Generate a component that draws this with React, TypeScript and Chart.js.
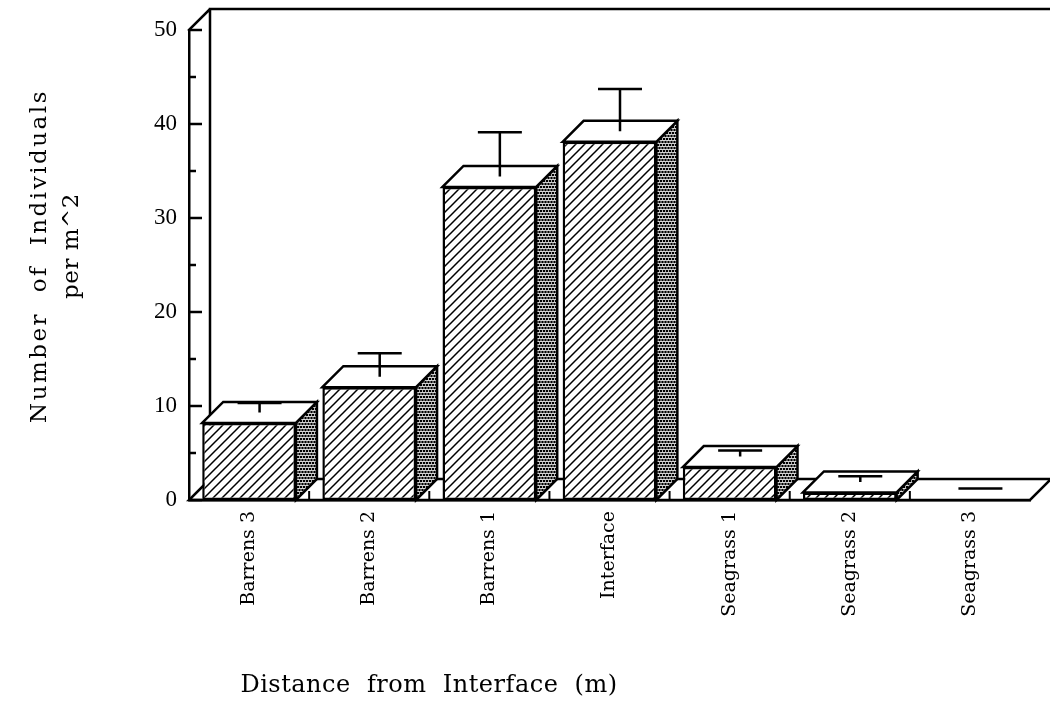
import React, { useEffect, useRef } from 'react';
import { Chart, registerables } from 'chart.js';

Chart.register(...registerables);

// Mean density and standard error at each station along the transect
const categories = ['Barrens 3', 'Barrens 2', 'Barrens 1', 'Interface', 'Seagrass 1', 'Seagrass 2', 'Seagrass 3'];
const meanDensity = [8.2, 12.0, 33.3, 38.1, 3.5, 0.8, 0];
const standardError = [1.0, 2.5, 4.7, 4.5, 0.65, 0.6, 0.1];

const yMin = 0;
const yMax = 50;
const yStep = 5;
const yLabelStep = 10;

const xAxisTitle = 'Distance  from  Interface  (m)';
const yAxisTitle = ['Number  of  Individuals', 'per m^2'];

const DEPTH = 21; // 3D extrusion offset in px
const LINE = 2.5;
const CAP_HALF = 22;

function makeHatch(ctx: CanvasRenderingContext2D): CanvasPattern | string {
  const c = document.createElement('canvas');
  c.width = 9;
  c.height = 9;
  const g = c.getContext('2d')!;
  g.fillStyle = '#fff';
  g.fillRect(0, 0, 9, 9);
  g.strokeStyle = '#000';
  g.lineWidth = 1.5;
  g.beginPath();
  g.moveTo(-1, 10);
  g.lineTo(10, -1);
  g.moveTo(-1, 1);
  g.lineTo(1, -1);
  g.moveTo(8, 10);
  g.lineTo(10, 8);
  g.stroke();
  return ctx.createPattern(c, 'repeat') || '#fff';
}

function makeDots(ctx: CanvasRenderingContext2D): CanvasPattern | string {
  const c = document.createElement('canvas');
  c.width = 6;
  c.height = 6;
  const g = c.getContext('2d')!;
  g.fillStyle = '#fff';
  g.fillRect(0, 0, 6, 6);
  g.fillStyle = '#000';
  const pts = [
    [1, 1],
    [4, 1],
    [7, 1],
    [2.5, 4],
    [5.5, 4],
    [-0.5, 4],
    [1, 7],
    [4, 7],
  ];
  g.beginPath();
  pts.forEach(([px, py]) => {
    g.moveTo(px + 1.3, py);
    g.arc(px, py, 1.3, 0, Math.PI * 2);
  });
  g.fill();
  return ctx.createPattern(c, 'repeat') || '#888';
}

const box3d = {
  id: 'box3d',
  beforeDatasetsDraw(chart: any) {
    const { ctx, chartArea } = chart;
    const { left, right, top, bottom } = chartArea;
    const xs = chart.scales.x;
    const ys = chart.scales.y;
    ctx.save();
    ctx.strokeStyle = '#000';
    ctx.lineWidth = LINE;
    ctx.lineCap = 'square';
    // back wall
    ctx.beginPath();
    ctx.moveTo(left, top);
    ctx.lineTo(left + DEPTH, top - DEPTH);
    ctx.lineTo(chart.width, top - DEPTH);
    ctx.moveTo(left + DEPTH, top - DEPTH);
    ctx.lineTo(left + DEPTH, bottom - DEPTH);
    ctx.stroke();
    // floor
    ctx.beginPath();
    ctx.moveTo(left, bottom);
    ctx.lineTo(right, bottom);
    ctx.lineTo(right + DEPTH, bottom - DEPTH);
    ctx.lineTo(left + DEPTH, bottom - DEPTH);
    ctx.closePath();
    ctx.stroke();
    // category separators on the floor
    ctx.lineWidth = 2;
    ctx.lineCap = 'butt';
    for (let i = 1; i < categories.length; i++) {
      const bx = (xs.getPixelForTick(i - 1) + xs.getPixelForTick(i)) / 2;
      ctx.beginPath();
      ctx.moveTo(bx, bottom);
      ctx.lineTo(bx, bottom - 9);
      ctx.stroke();
    }
    // inward tick marks on the value axis
    ctx.lineWidth = LINE;
    ys.ticks.forEach((t: any) => {
      const y = ys.getPixelForValue(t.value);
      const len = t.value % yLabelStep === 0 ? 13 : 7;
      ctx.beginPath();
      ctx.moveTo(left, y);
      ctx.lineTo(left + len, y);
      ctx.stroke();
    });
    ctx.restore();
  },
  afterDatasetsDraw(chart: any) {
    const { ctx } = chart;
    const ys = chart.scales.y;
    const meta = chart.getDatasetMeta(0);
    const dots = makeDots(ctx);
    ctx.save();
    ctx.strokeStyle = '#000';
    ctx.lineWidth = LINE;
    ctx.lineJoin = 'miter';
    meta.data.forEach((bar: any) => {
      const { x, y, base, width } = bar.getProps(['x', 'y', 'base', 'width'], true);
      if (base - y < 0.5) return;
      const xL = x - width / 2;
      const xR = x + width / 2;
      // side face
      ctx.beginPath();
      ctx.moveTo(xR, y);
      ctx.lineTo(xR + DEPTH, y - DEPTH);
      ctx.lineTo(xR + DEPTH, base - DEPTH);
      ctx.lineTo(xR, base);
      ctx.closePath();
      ctx.fillStyle = dots;
      ctx.fill();
      ctx.stroke();
      // top face
      ctx.beginPath();
      ctx.moveTo(xL, y);
      ctx.lineTo(xL + DEPTH, y - DEPTH);
      ctx.lineTo(xR + DEPTH, y - DEPTH);
      ctx.lineTo(xR, y);
      ctx.closePath();
      ctx.fillStyle = '#fff';
      ctx.fill();
      ctx.stroke();
    });
    // error bars on the mid-depth plane
    meta.data.forEach((bar: any, i: number) => {
      const { x, y } = bar.getProps(['x', 'y'], true);
      const cx = x + DEPTH / 2;
      const y0 = y - DEPTH / 2;
      const yCap = ys.getPixelForValue(meanDensity[i] + standardError[i]) - DEPTH / 2;
      ctx.beginPath();
      ctx.moveTo(cx, y0);
      ctx.lineTo(cx, yCap);
      ctx.moveTo(cx - CAP_HALF, yCap);
      ctx.lineTo(cx + CAP_HALF, yCap);
      ctx.stroke();
    });
    ctx.restore();
  },
  afterDraw(chart: any) {
    const { ctx, chartArea } = chart;
    ctx.save();
    ctx.fillStyle = '#000';
    ctx.textAlign = 'center';
    ctx.textBaseline = 'middle';
    ctx.font = '24px "DejaVu Serif"';
    (ctx as any).letterSpacing = '0.5px';
    ctx.fillText(xAxisTitle, chartArea.left + 240, 686);
    ctx.translate(0, 256);
    ctx.rotate(-Math.PI / 2);
    ctx.font = '23px "DejaVu Serif"';
    (ctx as any).letterSpacing = '2.5px';
    ctx.fillText(yAxisTitle[0], 0, 40);
    (ctx as any).letterSpacing = '0.5px';
    ctx.fillText(yAxisTitle[1], 10, 72);
    ctx.restore();
  },
};

export default function App() {
  const ref = useRef<HTMLCanvasElement | null>(null);

  useEffect(() => {
    const canvas = ref.current;
    if (!canvas) return;
    const ctx = canvas.getContext('2d')!;
    const hatch = makeHatch(ctx);
    const chart = new Chart(canvas, {
      type: 'bar',
      data: {
        labels: categories,
        datasets: [
          {
            data: meanDensity,
            backgroundColor: hatch as any,
            borderColor: '#000',
            borderWidth: LINE,
            borderSkipped: false,
            barPercentage: 0.78,
            categoryPercentage: 1,
          },
        ],
      },
      options: {
        responsive: false,
        animation: false,
        devicePixelRatio: 1,
        layout: { padding: { left: 0, right: 20, top: 30, bottom: 0 } },
        plugins: {
          legend: { display: false },
          tooltip: { enabled: false },
        },
        scales: {
          x: {
            grid: { display: false, drawTicks: false },
            border: { display: true, color: '#000', width: LINE },
            ticks: {
              autoSkip: false,
              minRotation: 90,
              maxRotation: 90,
              padding: 11,
              color: '#000',
              font: { family: '"DejaVu Serif"', size: 19 },
            },
            afterFit: (scale: any) => {
              scale.height = 209;
            },
          },
          y: {
            min: yMin,
            max: yMax,
            grid: { display: false, drawTicks: false },
            border: { display: true, color: '#000', width: LINE },
            ticks: {
              stepSize: yStep,
              autoSkip: false,
              padding: 12,
              color: '#000',
              font: { family: '"Liberation Serif"', size: 23 },
              callback: (v: any) => (Number(v) % yLabelStep === 0 ? String(v) : ''),
            },
            afterFit: (scale: any) => {
              scale.width = 189;
            },
          },
        },
      },
      plugins: [box3d],
    });
    return () => chart.destroy();
  }, []);

  return (
    <div style={{ position: 'absolute', left: 0, top: 0, width: 1050, height: 709, background: '#fff' }}>
      <canvas ref={ref} width={1050} height={709} />
    </div>
  );
}
